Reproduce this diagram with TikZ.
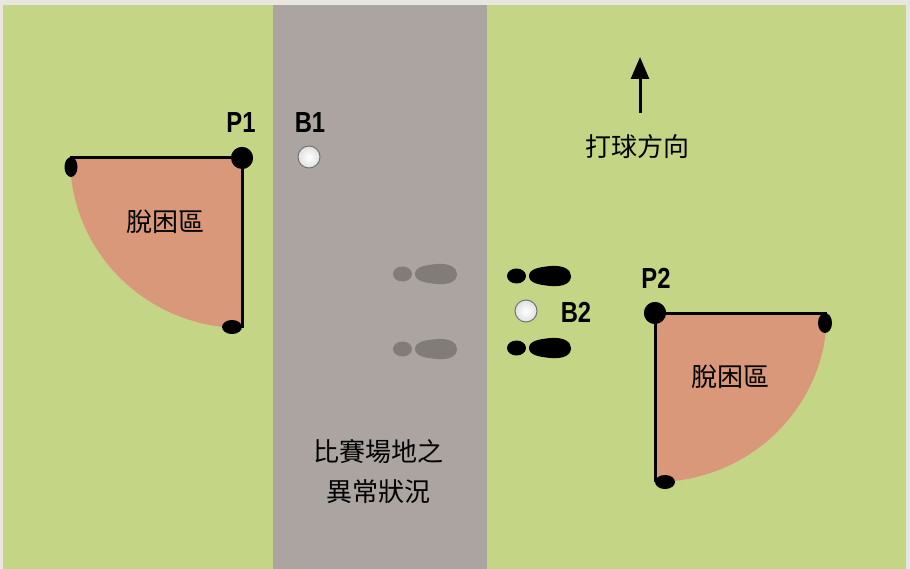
\documentclass[tikz,border=0pt]{standalone}
\usepackage{fontspec}
\newfontfamily\cjk{Noto Sans CJK TC}
\newfontfamily\sigla[FakeStretch=0.82]{Liberation Sans}
\usetikzlibrary{arrows.meta}

\definecolor{carta}{RGB}{233,229,223}
\definecolor{prato}{RGB}{196,214,134}
\definecolor{strada}{RGB}{171,164,160}
\definecolor{zona}{RGB}{217,152,122}
\definecolor{ombra}{RGB}{130,124,120}

% one shoe print: heel + sole, from the heel's left end
\newcommand{\orma}[3]{%
  \begin{scope}[shift={(#1,#2)}]
    \fill[#3] (9.5,0) ellipse (9.5pt and 7.5pt);
    \fill[#3] (22,0) .. controls (22,-7) and (32,-9) .. (44,-10)
      .. controls (57,-11) and (64,-6) .. (64,0)
      .. controls (64,7) and (57,11) .. (44,10)
      .. controls (32,9) and (22,7) .. (22,0);
  \end{scope}}

\begin{document}
\begin{tikzpicture}[x=1pt,y=-1pt]
\tikzstyle{bordo} = [line width=3pt]
\tikzstyle{spigolo} = [circle, fill=black, minimum size=22pt, inner sep=0pt]
\tikzstyle{palla} = [circle, minimum size=22pt, inner sep=0pt, draw=black!55, line width=1pt, inner color=white, outer color=black!12]
\tikzstyle{testo} = [font=\cjk\fontsize{26}{40}\selectfont, align=center]
\tikzstyle{sigla} = [font=\sigla\bfseries\fontsize{29}{29}\selectfont]
\tikzstyle{freccia} = [-{Triangle[width=18pt,length=22pt]}, line width=3pt]

% ground
\fill[carta] (0,0) rectangle (910,569);
\fill[prato] (3,5) rectangle (906,569);
\fill[strada] (273,5) rectangle (487,569);

% relief area on the left
\node[spigolo] (p1) at (242,158) {};
\coordinate (a1) at (70,158);
\coordinate (b1) at (242,328);
\fill[zona] (p1.center) -- (a1) arc[start angle=180, end angle=270, x radius=172pt, y radius=170pt] -- cycle;
\draw[bordo] (a1) -- (p1.center) -- (b1);
\fill (71,167) ellipse (6.5pt and 10pt);
\fill (232,327) ellipse (10pt and 7pt);
\node[spigolo] at (p1) {};
\node[testo] (z1) at (165,222) {脫困區};

% relief area on the right
\node[spigolo] (p2) at (655,313) {};
\coordinate (a2) at (827,313);
\coordinate (b2) at (655,482);
\fill[zona] (p2.center) -- (a2) arc[start angle=0, end angle=-90, x radius=172pt, y radius=169pt] -- cycle;
\draw[bordo] (a2) -- (p2.center) -- (b2);
\fill (825,323) ellipse (7pt and 10pt);
\fill (665,482) ellipse (10pt and 7pt);
\node[spigolo] at (p2) {};
\node[testo] (z2) at (730,377) {脫困區};

% labels and balls
\node[sigla] (l1) at (241,123) {P1};
\node[sigla] (l2) at (656,278) {P2};
\node[sigla] (l3) at (310,123) {B1};
\node[sigla] (l4) at (576,312) {B2};
\node[palla] (ball1) at (309,157) {};
\node[palla] (ball2) at (526,311) {};

% footprints
\orma{393}{274}{ombra}
\orma{393}{349}{ombra}
\orma{507}{276}{black}
\orma{507}{348}{black}

% direction of play
\coordinate (f0) at (640,113);
\coordinate (f1) at (640,57);
\draw[freccia] (f0) -- (f1);
\node[testo] (dir) at (637,147) {打球方向};

\node[testo] (nota) at (378,472) {比賽場地之\\異常狀況};
\end{tikzpicture}
\end{document}
